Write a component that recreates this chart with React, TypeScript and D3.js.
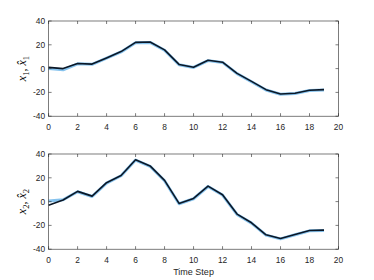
import React from 'react'
import * as d3 from 'd3'

const timeSteps = d3.range(0, 20)

// x1: true state (light blue) and estimate (dark)
const x1True = [0, -1, 4, 3.6, 8.8, 14, 21.7, 22, 15.4, 3.2, 1, 6.7, 5.2, -4.2, -11, -18, -21.6, -21, -18.4, -18]
const x1Hat = [1, 0, 4.3, 3.8, 9, 14.3, 22, 22.3, 15.7, 3.5, 1.2, 7, 5.4, -4, -10.7, -17.7, -21.3, -20.7, -18.2, -17.7]

// x2: true state (light blue) and estimate (dark)
const x2True = [0.5, 1.6, 8.3, 4.3, 15.6, 21.7, 34.9, 29.7, 17.5, -1.8, 2.4, 12.7, 5.5, -10.8, -18.1, -28.2, -31.3, -27.9, -24.6, -24.3]
const x2Hat = [-3, 1.3, 8.6, 4.6, 15.9, 22, 35.2, 30, 17.8, -1.5, 2.7, 13, 5.8, -10.5, -17.8, -27.9, -31, -27.6, -24.3, -24]

const xTicks = [0, 2, 4, 6, 8, 10, 12, 14, 16, 18, 20]
const yTicks = [-40, -20, 0, 20, 40]

const W = 374
const H = 280
const left = 48.6
const right = 338.5
const axisColor = '#262626'
const trueColor = '#86c3ee'
const hatColor = '#0b1726'
const tickFont = '"Liberation Sans", Arial, Helvetica, sans-serif'

interface PanelProps {
  top: number
  bottom: number
  truth: number[]
  estimate: number[]
  sub: string
}

const Panel: React.FC<PanelProps> = ({ top, bottom, truth, estimate, sub }) => {
  const x = d3.scaleLinear([0, 20], [left, right])
  const y = d3.scaleLinear([-40, 40], [bottom, top])
  const line = d3.line<number>().x((_, i) => x(timeSteps[i])).y((d) => y(d))
  const tl = 3
  return (
    <g>
      <rect x={left} y={top} width={right - left} height={bottom - top} fill="#fff" />
      <path d={line(truth) ?? ''} fill="none" stroke={trueColor} strokeWidth={3} strokeLinejoin="round" />
      <path d={line(estimate) ?? ''} fill="none" stroke={hatColor} strokeWidth={1.6} strokeLinejoin="round" />
      <rect x={left} y={top} width={right - left} height={bottom - top} fill="none" stroke={axisColor} strokeWidth={0.6} />
      {xTicks.map((t) => (
        <g key={'x' + t}>
          <line x1={x(t)} x2={x(t)} y1={bottom} y2={bottom - tl} stroke={axisColor} strokeWidth={0.6} />
          <line x1={x(t)} x2={x(t)} y1={top} y2={top + tl} stroke={axisColor} strokeWidth={0.6} />
          <text x={x(t)} y={bottom + 13.5} textAnchor="middle" fontSize={8.4} fontFamily={tickFont} fill={axisColor}>
            {t}
          </text>
        </g>
      ))}
      {yTicks.map((t) => (
        <g key={'y' + t}>
          <line x1={left} x2={left + tl} y1={y(t)} y2={y(t)} stroke={axisColor} strokeWidth={0.6} />
          <line x1={right} x2={right - tl} y1={y(t)} y2={y(t)} stroke={axisColor} strokeWidth={0.6} />
          <text x={left - 3.5} y={y(t) + 3} textAnchor="end" fontSize={8.4} fontFamily={tickFont} fill={axisColor}>
            {t}
          </text>
        </g>
      ))}
      <g transform={`translate(26,${(top + bottom) / 2}) rotate(-90)`}>
        <text textAnchor="middle" fontFamily='"Liberation Serif", "DejaVu Serif", serif' fontSize={12} fill="#000">
          <tspan fontStyle="italic">x</tspan>
          <tspan fontSize={8.5} dy={2.5}>{sub}</tspan>
          <tspan dy={-2.5}>, </tspan>
          <tspan fontStyle="italic">x̂</tspan>
          <tspan fontSize={8.5} dy={2.5}>{sub}</tspan>
        </text>
      </g>
    </g>
  )
}

export default function App() {
  return (
    <svg width={W} height={H} style={{ display: 'block', position: 'absolute', left: 0, top: 0 }}>
      <rect width={W} height={H} fill="#fff" />
      <Panel top={21} bottom={116.2} truth={x1True} estimate={x1Hat} sub="1" />
      <Panel top={154} bottom={249.2} truth={x2True} estimate={x2Hat} sub="2" />
      <text x={(left + right) / 2} y={274.5} textAnchor="middle" fontSize={9} fontFamily={tickFont} fill={axisColor}>
        Time Step
      </text>
    </svg>
  )
}
